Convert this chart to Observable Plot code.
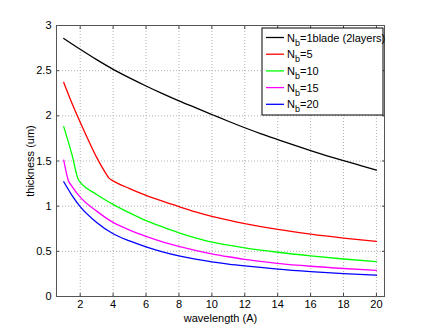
<!DOCTYPE html>
<html>
<head>
<meta charset="utf-8">
<script src="https://cdn.jsdelivr.net/npm/d3@7"></script>
<script src="https://cdn.jsdelivr.net/npm/@observablehq/plot@0.6"></script>
<style>
  html, body { margin: 0; padding: 0; background: #fff; }
  #chart svg { display: block; }
</style>
</head>
<body>
<div id="chart"></div>
<script>
// ---- data ----
const seriesNames = ["1blade (2layers)", "5", "10", "15", "20"];
const seriesColors = ["#000000", "#ff0000", "#00ff00", "#ff00ff", "#0000ff"];

const xBlack = [1,2,3,4,5,6,7,8,9,10,11,12,13,14,15,16,17,18,19,20];
const yBlack = [2.857,2.737,2.622,2.515,2.42,2.33,2.245,2.165,2.09,2.015,1.94,1.868,1.80,1.737,1.675,1.615,1.558,1.504,1.452,1.40];

const xRed = [1,1.5,2,2.5,3,3.5,3.75,4,5,6,7,8,9,10,11,12,14,16,18,20];
const yRed = [2.37,2.14,1.93,1.73,1.54,1.38,1.31,1.28,1.195,1.12,1.055,0.995,0.938,0.888,0.845,0.807,0.742,0.69,0.647,0.61];

const xGreen = [1,1.5,1.9,2,3,4,5,6,7,8,9,10,11,12,14,16,18,20];
const yGreen = [1.88,1.57,1.29,1.265,1.13,1.02,0.925,0.84,0.77,0.705,0.65,0.603,0.568,0.538,0.49,0.45,0.415,0.385];

const xMagenta = [1,1.27,1.5,2,3,4,5,6,7,8,9,10,11,12,14,16,18,20];
const yMagenta = [1.51,1.29,1.22,1.10,0.945,0.82,0.735,0.665,0.605,0.555,0.511,0.473,0.44,0.41,0.367,0.335,0.31,0.29];

const xBlue = [1,1.5,2,3,4,5,6,7,8,9,10,11,12,14,16,18,20];
const yBlue = [1.27,1.12,0.995,0.82,0.695,0.615,0.55,0.495,0.45,0.414,0.384,0.359,0.338,0.303,0.276,0.254,0.235];

const xTicks = [2,4,6,8,10,12,14,16,18,20];
const yTicks = [0,0.5,1,1.5,2,2.5,3];

// ---- build table ----
const xs = [xBlack, xRed, xGreen, xMagenta, xBlue];
const ys = [yBlack, yRed, yGreen, yMagenta, yBlue];
const rows = [];
xs.forEach((xa, i) => xa.forEach((x, j) => rows.push({series: seriesNames[i], x, y: ys[i][j]})));

const W = 425, H = 333;
const font = "'Liberation Sans', Arial, Helvetica, sans-serif";
const noLabel = () => "";

const plot = Plot.plot({
  width: W, height: H,
  marginLeft: 56, marginRight: 41, marginTop: 25, marginBottom: 37,
  style: {fontFamily: font, fontSize: "11px", background: "#fff", color: "#000"},
  x: {domain: [0.56, 20.49]},
  y: {domain: [0, 3]},
  color: {domain: seriesNames, range: seriesColors},
  marks: [
    Plot.gridX(xTicks, {stroke: "#b0b0b0", strokeOpacity: 1, strokeDasharray: "1,2"}),
    Plot.gridY(yTicks.filter(d => d > 0 && d < 3), {stroke: "#b0b0b0", strokeOpacity: 1, strokeDasharray: "1,2"}),
    Plot.line(rows, {x: "x", y: "y", z: "series", stroke: "series", strokeWidth: 1.3, curve: "monotone-x"}),
    Plot.axisX(xTicks, {anchor: "bottom", tickSize: -3, tickPadding: 7, stroke: "#444",
      tickFormat: d => String(d),
      label: "wavelength (A)", labelAnchor: "center", labelArrow: "none", labelOffset: 25}),
    Plot.axisX(xTicks, {anchor: "top", tickSize: -3, tickFormat: noLabel, stroke: "#444", label: null}),
    Plot.axisY(yTicks, {anchor: "left", tickSize: -3, tickPadding: 8, stroke: "#444",
      tickFormat: d => String(d),
      label: "thickness (um)", labelAnchor: "center", labelArrow: "none", labelOffset: 30}),
    Plot.axisY(yTicks, {anchor: "right", tickSize: -3, tickFormat: noLabel, stroke: "#444", label: null}),
    Plot.frame({stroke: "#555"})
  ]
});

document.getElementById("chart").appendChild(plot);

// ---- legend (inside the axes, top-right, MATLAB style) ----
const svg = d3.select(plot);
const lg = svg.append("g").attr("font-family", font).attr("font-size", 11)
  .attr("text-anchor", "start");
const bx = 262, by = 28, bw = 121, bh = 87, rowH = 16.7;
lg.append("rect").attr("x", bx).attr("y", by).attr("width", bw).attr("height", bh)
  .attr("fill", "#fff").attr("stroke", "#000").attr("stroke-width", 1);
seriesNames.forEach((name, i) => {
  const cy = by + 9.5 + i * rowH;
  lg.append("line").attr("x1", bx + 4).attr("x2", bx + 22).attr("y1", cy).attr("y2", cy)
    .attr("stroke", seriesColors[i]).attr("stroke-width", 1.3);
  const t = lg.append("text").attr("x", bx + 25).attr("y", cy + 4).attr("fill", "#000")
    .attr("text-anchor", "start");
  t.append("tspan").text("N");
  t.append("tspan").attr("dy", 4).attr("font-size", 9).text("b");
  t.append("tspan").attr("dy", -4).text("=" + name);
});
</script>
</body>
</html>
